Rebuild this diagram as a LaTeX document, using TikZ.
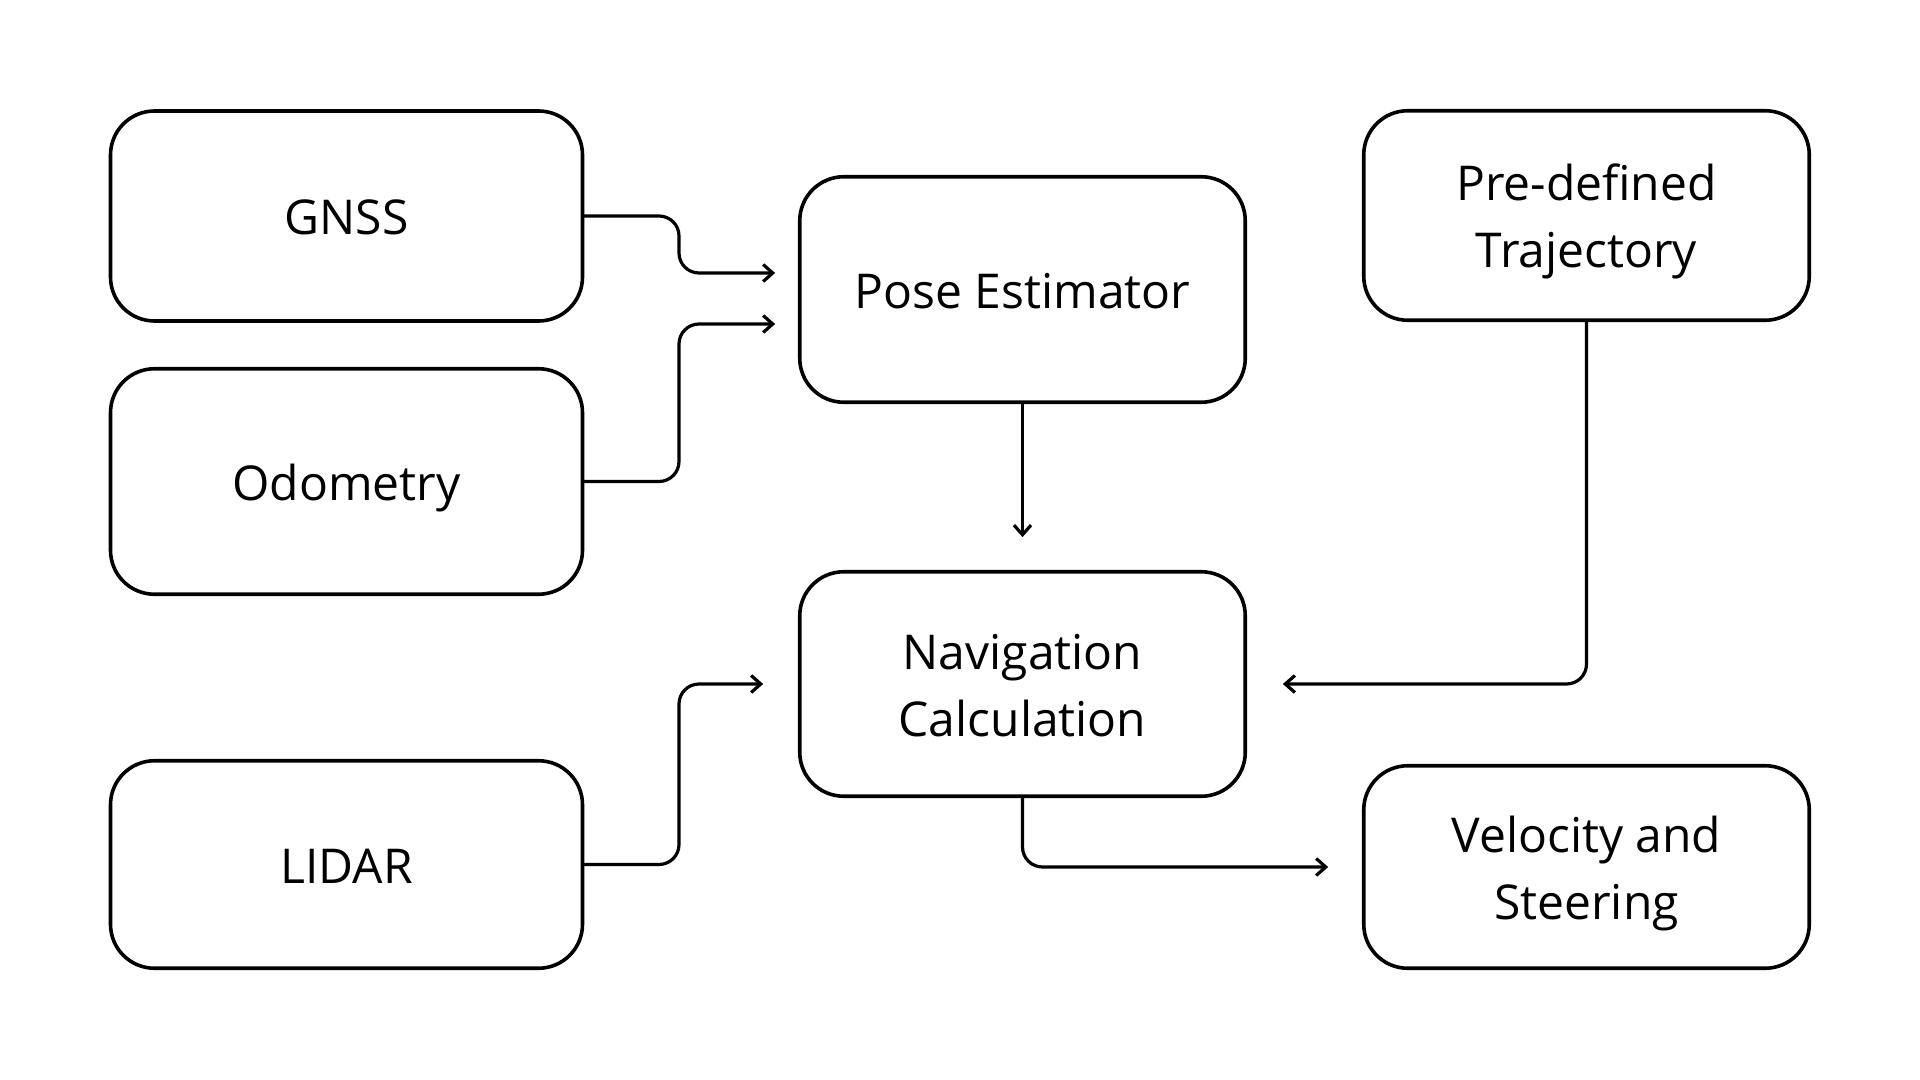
\documentclass[tikz,border=0pt]{standalone}
\usepackage{fontspec}
\setmainfont{Open Sans}
\usetikzlibrary{arrows.meta,calc}
\newcommand{\mystrut}{\rule[-6pt]{0pt}{31pt}}
\begin{document}
\begin{tikzpicture}[x=0.5pt,y=-0.5pt,
  box/.style={draw=black, line width=1.8pt, rounded corners=22pt, align=center,
    font=\fontsize{24}{33.5}\selectfont, inner sep=0pt, text=black},
  conn/.style={draw=black, line width=1.6pt, rounded corners=10pt, line join=round, line cap=round,
    -{Straight Barb[length=4.8pt,width=8.5pt]}}]
\fill[white] (0,0) rectangle (1920,1080);
\useasboundingbox (0,0) rectangle (1920,1080);
% nodes
\node[box, minimum width=236pt, minimum height=105pt]   (gnss)  at (346.5,216)   {GNSS\mystrut};
\node[box, minimum width=236pt, minimum height=112.75pt] (odo)  at (346.5,481.5) {Odometry\mystrut};
\node[box, minimum width=236pt, minimum height=103.75pt] (lidar) at (346.5,864.5) {LIDAR\mystrut};
\node[box, minimum width=222.75pt, minimum height=112.75pt] (pose) at (1022.5,289.5) {Pose Estimator\mystrut};
\node[box, minimum width=222.75pt, minimum height=112.25pt] (nav)  at (1022.5,684)   {Navigation\mystrut\\Calculation\mystrut};
\node[box, minimum width=222.75pt, minimum height=104.75pt] (traj) at (1586.5,215.5) {Pre-defined\mystrut\\Trajectory\mystrut};
\node[box, minimum width=222.75pt, minimum height=101.25pt] (vel)  at (1586.5,867)   {Velocity and\mystrut\\Steering\mystrut};
% helper coordinates
\coordinate (jL) at (679,0);
\coordinate (g1) at ($(pose.west)+(0,-16.5)$);
\coordinate (o1) at ($(pose.west)+(0,34.5)$);
% connectors
\draw[conn, shorten >=11.4pt] (gnss.east) -| (jL |- g1) -- (g1);
\draw[conn, shorten >=11.4pt] (odo.east) -| (jL |- o1) -- (o1);
\draw[conn, shorten >=17.4pt] (lidar.east) -| (jL |- nav.west) -- (nav.west);
\draw[conn, shorten >=16.4pt] (pose.south) -- (nav.north);
\draw[conn, shorten >=17.9pt] (traj.south) |- (nav.east);
\draw[conn, shorten >=16.9pt] (nav.south) |- (vel.west);
\end{tikzpicture}
\end{document}
